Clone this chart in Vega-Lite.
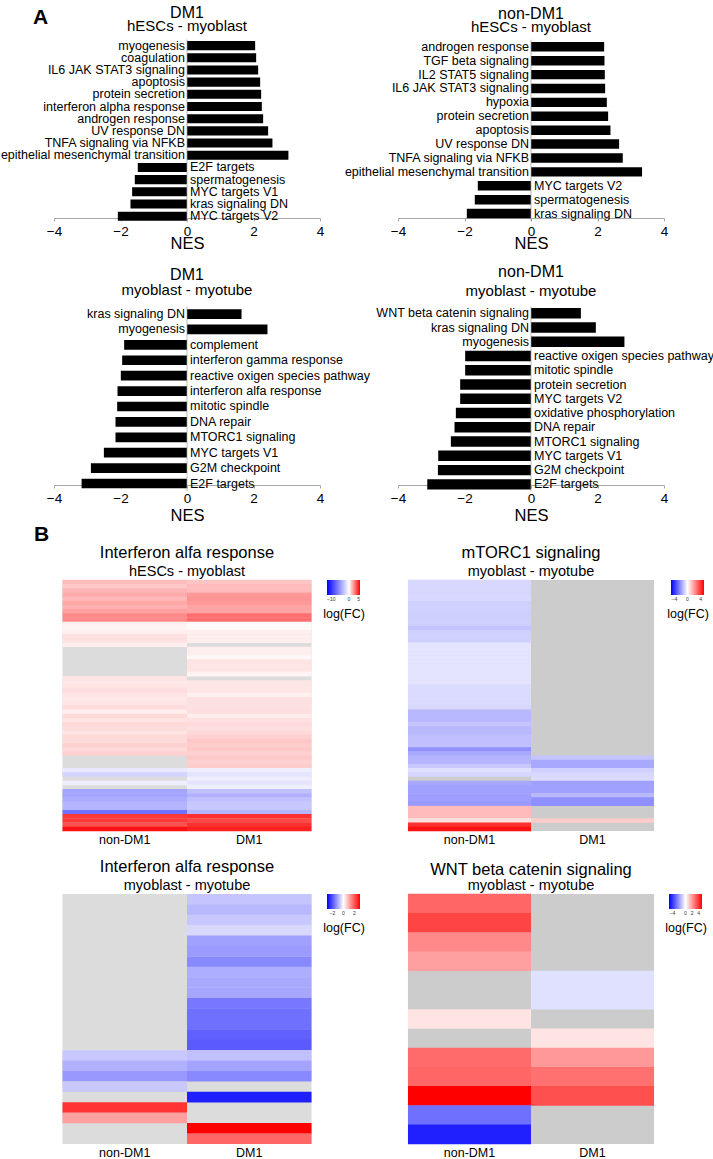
{
"$schema": "https://vega.github.io/schema/vega-lite/v6.json",
"padding": {"left": 0, "top": 5, "right": 0, "bottom": 0},
"title": {"text": "A", "anchor": "start", "frame": "bounds", "fontSize": 21, "fontWeight": "bold", "dx": 32, "dy": 23, "offset": 0},
"config": {
  "font": "Liberation Sans",
  "view": {"stroke": null},
  "title": {"fontWeight": "normal", "color": "black", "subtitleColor": "black", "anchor": "middle"},
  "axis": {"labelColor": "black", "titleColor": "black", "grid": false},
  "legend": {"orient": "right", "direction": "horizontal", "offset": 3, "padding": 0, "gradientLength": 33, "gradientThickness": 15, "labelFontSize": 5, "labelOffset": 2, "titleOrient": "bottom", "titleFontSize": 12.5, "titleFontWeight": "normal", "titlePadding": 6, "titleAnchor": "middle", "labelOverlap": false, "gradientStrokeWidth": 0, "titleColor": "black", "labelColor": "#333"}
},
"datasets": {
  "bars1": [
    {"o":1,"term":"myogenesis","nes":2.05},
    {"o":2,"term":"coagulation","nes":2.08},
    {"o":3,"term":"IL6 JAK STAT3 signaling","nes":2.14},
    {"o":4,"term":"apoptosis","nes":2.2},
    {"o":5,"term":"protein secretion","nes":2.23},
    {"o":6,"term":"interferon alpha response","nes":2.25},
    {"o":7,"term":"androgen response","nes":2.29},
    {"o":8,"term":"UV response DN","nes":2.44},
    {"o":9,"term":"TNFA signaling via NFKB","nes":2.57},
    {"o":10,"term":"epithelial mesenchymal transition","nes":3.05},
    {"o":11,"term":"E2F targets","nes":-1.48},
    {"o":12,"term":"spermatogenesis","nes":-1.57},
    {"o":13,"term":"MYC targets V1","nes":-1.65},
    {"o":14,"term":"kras signaling DN","nes":-1.7},
    {"o":15,"term":"MYC targets V2","nes":-2.08}
  ],
  "bars2": [
    {"o":1,"term":"androgen response","nes":2.2},
    {"o":2,"term":"TGF beta signaling","nes":2.21},
    {"o":3,"term":"IL2 STAT5 signaling","nes":2.22},
    {"o":4,"term":"IL6 JAK STAT3 signaling","nes":2.23},
    {"o":5,"term":"hypoxia","nes":2.28},
    {"o":6,"term":"protein secretion","nes":2.32},
    {"o":7,"term":"apoptosis","nes":2.39},
    {"o":8,"term":"UV response DN","nes":2.65},
    {"o":9,"term":"TNFA signaling via NFKB","nes":2.76},
    {"o":10,"term":"epithelial mesenchymal transition","nes":3.34},
    {"o":11,"term":"MYC targets V2","nes":-1.6},
    {"o":12,"term":"spermatogenesis","nes":-1.69},
    {"o":13,"term":"kras signaling DN","nes":-1.93}
  ],
  "bars3": [
    {"o":1,"term":"kras signaling DN","nes":1.64},
    {"o":2,"term":"myogenesis","nes":2.42},
    {"o":3,"term":"complement","nes":-1.89},
    {"o":4,"term":"interferon gamma response","nes":-1.95},
    {"o":5,"term":"reactive oxigen species pathway","nes":-1.99},
    {"o":6,"term":"interferon alfa response","nes":-2.09},
    {"o":7,"term":"mitotic spindle","nes":-2.1},
    {"o":8,"term":"DNA repair","nes":-2.15},
    {"o":9,"term":"MTORC1 signaling","nes":-2.15},
    {"o":10,"term":"MYC targets V1","nes":-2.5},
    {"o":11,"term":"G2M checkpoint","nes":-2.89},
    {"o":12,"term":"E2F targets","nes":-3.17}
  ],
  "bars4": [
    {"o":1,"term":"WNT beta catenin signaling","nes":1.5},
    {"o":2,"term":"kras signaling DN","nes":1.95},
    {"o":3,"term":"myogenesis","nes":2.81},
    {"o":4,"term":"reactive oxigen species pathway","nes":-1.98},
    {"o":5,"term":"mitotic spindle","nes":-1.98},
    {"o":6,"term":"protein secretion","nes":-2.13},
    {"o":7,"term":"MYC targets V2","nes":-2.13},
    {"o":8,"term":"oxidative phosphorylation","nes":-2.26},
    {"o":9,"term":"DNA repair","nes":-2.3},
    {"o":10,"term":"MTORC1 signaling","nes":-2.41},
    {"o":11,"term":"MYC targets V1","nes":-2.79},
    {"o":12,"term":"G2M checkpoint","nes":-2.8},
    {"o":13,"term":"E2F targets","nes":-3.12}
  ],
  "hm1": [
    {"r":0,"g":"non-DM1","v":1.31},{"r":1,"g":"non-DM1","v":1.08},{"r":2,"g":"non-DM1","v":1.47},{"r":3,"g":"non-DM1","v":1.67},{"r":4,"g":"non-DM1","v":1.39},
    {"r":5,"g":"non-DM1","v":1.71},{"r":6,"g":"non-DM1","v":1.55},{"r":7,"g":"non-DM1","v":1.86},{"r":8,"g":"non-DM1","v":2.33},{"r":9,"g":"non-DM1","v":2.33},
    {"r":10,"g":"non-DM1","v":0.29},{"r":11,"g":"non-DM1","v":0.22},{"r":12,"g":"non-DM1","v":0.33},{"r":13,"g":"non-DM1","v":0.61},{"r":14,"g":"non-DM1","v":0.61},
    {"r":15,"g":"non-DM1","v":0.33},{"r":16,"g":"non-DM1","v":null},{"r":17,"g":"non-DM1","v":null},{"r":18,"g":"non-DM1","v":null},{"r":19,"g":"non-DM1","v":null},
    {"r":20,"g":"non-DM1","v":null},{"r":21,"g":"non-DM1","v":null},{"r":22,"g":"non-DM1","v":null},{"r":23,"g":"non-DM1","v":0.53},{"r":24,"g":"non-DM1","v":0.45},
    {"r":25,"g":"non-DM1","v":0.53},{"r":26,"g":"non-DM1","v":0.69},{"r":27,"g":"non-DM1","v":0.53},{"r":28,"g":"non-DM1","v":0.45},{"r":29,"g":"non-DM1","v":0.53},
    {"r":30,"g":"non-DM1","v":0.69},{"r":31,"g":"non-DM1","v":0.33},{"r":32,"g":"non-DM1","v":0.76},{"r":33,"g":"non-DM1","v":0.53},{"r":34,"g":"non-DM1","v":0.76},
    {"r":35,"g":"non-DM1","v":0.69},{"r":36,"g":"non-DM1","v":0.53},{"r":37,"g":"non-DM1","v":0.76},{"r":38,"g":"non-DM1","v":0.73},{"r":39,"g":"non-DM1","v":0.92},
    {"r":40,"g":"non-DM1","v":0.73},{"r":41,"g":"non-DM1","v":0.92},{"r":42,"g":"non-DM1","v":null},{"r":43,"g":"non-DM1","v":null},{"r":44,"g":"non-DM1","v":null},
    {"r":45,"g":"non-DM1","v":-0.9},{"r":46,"g":"non-DM1","v":-1.69},{"r":47,"g":"non-DM1","v":null},{"r":48,"g":"non-DM1","v":-0.67},{"r":49,"g":"non-DM1","v":null},
    {"r":50,"g":"non-DM1","v":-3.57},{"r":51,"g":"non-DM1","v":-3.57},{"r":52,"g":"non-DM1","v":-3.3},{"r":53,"g":"non-DM1","v":-2.94},{"r":54,"g":"non-DM1","v":-2.94},
    {"r":55,"g":"non-DM1","v":-5.6},{"r":56,"g":"non-DM1","v":3.9},{"r":57,"g":"non-DM1","v":3.9},{"r":58,"g":"non-DM1","v":3.43},{"r":59,"g":"non-DM1","v":4.69},
    {"r":0,"g":"DM1","v":1.16},{"r":1,"g":"DM1","v":1.33},{"r":2,"g":"DM1","v":1.33},{"r":3,"g":"DM1","v":2.0},{"r":4,"g":"DM1","v":2.1},
    {"r":5,"g":"DM1","v":2.0},{"r":6,"g":"DM1","v":1.78},{"r":7,"g":"DM1","v":1.78},{"r":8,"g":"DM1","v":2.84},{"r":9,"g":"DM1","v":2.84},
    {"r":10,"g":"DM1","v":0.1},{"r":11,"g":"DM1","v":0.1},{"r":12,"g":"DM1","v":0.33},{"r":13,"g":"DM1","v":0.33},{"r":14,"g":"DM1","v":0.33},
    {"r":15,"g":"DM1","v":null},{"r":16,"g":"DM1","v":0.33},{"r":17,"g":"DM1","v":0.33},{"r":18,"g":"DM1","v":0.14},{"r":19,"g":"DM1","v":0.53},
    {"r":20,"g":"DM1","v":0.53},{"r":21,"g":"DM1","v":0.53},{"r":22,"g":"DM1","v":0.22},{"r":23,"g":"DM1","v":null},{"r":24,"g":"DM1","v":0.49},
    {"r":25,"g":"DM1","v":0.49},{"r":26,"g":"DM1","v":0.49},{"r":27,"g":"DM1","v":0.29},{"r":28,"g":"DM1","v":0.61},{"r":29,"g":"DM1","v":0.61},
    {"r":30,"g":"DM1","v":0.61},{"r":31,"g":"DM1","v":0.65},{"r":32,"g":"DM1","v":0.37},{"r":33,"g":"DM1","v":0.61},{"r":34,"g":"DM1","v":0.73},
    {"r":35,"g":"DM1","v":0.61},{"r":36,"g":"DM1","v":0.73},{"r":37,"g":"DM1","v":0.92},{"r":38,"g":"DM1","v":1.08},{"r":39,"g":"DM1","v":1.0},
    {"r":40,"g":"DM1","v":1.08},{"r":41,"g":"DM1","v":0.92},{"r":42,"g":"DM1","v":1.08},{"r":43,"g":"DM1","v":0.92},{"r":44,"g":"DM1","v":1.0},
    {"r":45,"g":"DM1","v":-0.67},{"r":46,"g":"DM1","v":-1.06},{"r":47,"g":"DM1","v":-0.67},{"r":48,"g":"DM1","v":-1.06},{"r":49,"g":"DM1","v":-0.67},
    {"r":50,"g":"DM1","v":-2.47},{"r":51,"g":"DM1","v":-3.1},{"r":52,"g":"DM1","v":-2.47},{"r":53,"g":"DM1","v":-2.16},{"r":54,"g":"DM1","v":-2.16},
    {"r":55,"g":"DM1","v":-2.94},{"r":56,"g":"DM1","v":4.06},{"r":57,"g":"DM1","v":3.59},{"r":58,"g":"DM1","v":4.06},{"r":59,"g":"DM1","v":4.37}
  ],
  "hm2": [
    {"r":0,"g":"non-DM1","v":-0.76},{"r":1,"g":"non-DM1","v":-0.78},{"r":2,"g":"non-DM1","v":-0.76},{"r":3,"g":"non-DM1","v":-0.8},{"r":4,"g":"non-DM1","v":-0.76},
    {"r":5,"g":"non-DM1","v":-0.92},{"r":6,"g":"non-DM1","v":-0.9},{"r":7,"g":"non-DM1","v":-0.92},{"r":8,"g":"non-DM1","v":-0.94},{"r":9,"g":"non-DM1","v":-0.92},
    {"r":10,"g":"non-DM1","v":-0.92},{"r":11,"g":"non-DM1","v":-1.16},{"r":12,"g":"non-DM1","v":-0.92},{"r":13,"g":"non-DM1","v":-0.9},{"r":14,"g":"non-DM1","v":-0.92},
    {"r":15,"g":"non-DM1","v":-0.53},{"r":16,"g":"non-DM1","v":-0.53},{"r":17,"g":"non-DM1","v":-0.53},{"r":18,"g":"non-DM1","v":-0.53},{"r":19,"g":"non-DM1","v":-0.53},
    {"r":20,"g":"non-DM1","v":-0.53},{"r":21,"g":"non-DM1","v":-0.53},{"r":22,"g":"non-DM1","v":-0.53},{"r":23,"g":"non-DM1","v":-0.53},{"r":24,"g":"non-DM1","v":-0.53},
    {"r":25,"g":"non-DM1","v":-0.7},{"r":26,"g":"non-DM1","v":-0.7},{"r":27,"g":"non-DM1","v":-0.7},{"r":28,"g":"non-DM1","v":-0.7},{"r":29,"g":"non-DM1","v":-0.7},
    {"r":30,"g":"non-DM1","v":-0.76},{"r":31,"g":"non-DM1","v":-1.39},{"r":32,"g":"non-DM1","v":-1.39},{"r":33,"g":"non-DM1","v":-1.39},{"r":34,"g":"non-DM1","v":-1.16},
    {"r":35,"g":"non-DM1","v":-1.39},{"r":36,"g":"non-DM1","v":-1.39},{"r":37,"g":"non-DM1","v":-1.24},{"r":38,"g":"non-DM1","v":-1.24},{"r":39,"g":"non-DM1","v":-1.24},
    {"r":40,"g":"non-DM1","v":-2.18},{"r":41,"g":"non-DM1","v":-1.71},{"r":42,"g":"non-DM1","v":-1.47},{"r":43,"g":"non-DM1","v":-1.47},{"r":44,"g":"non-DM1","v":-1.08},
    {"r":45,"g":"non-DM1","v":-0.61},{"r":46,"g":"non-DM1","v":-0.8},{"r":47,"g":"non-DM1","v":null},{"r":48,"g":"non-DM1","v":-1.71},{"r":49,"g":"non-DM1","v":-1.86},
    {"r":50,"g":"non-DM1","v":-1.86},{"r":51,"g":"non-DM1","v":-1.9},{"r":52,"g":"non-DM1","v":-1.9},{"r":53,"g":"non-DM1","v":-2.0},{"r":54,"g":"non-DM1","v":1.33},
    {"r":55,"g":"non-DM1","v":1.33},{"r":56,"g":"non-DM1","v":1.33},{"r":57,"g":"non-DM1","v":0.61},{"r":58,"g":"non-DM1","v":4.06},{"r":59,"g":"non-DM1","v":4.69},
    {"r":0,"g":"DM1","v":null},{"r":1,"g":"DM1","v":null},{"r":2,"g":"DM1","v":null},{"r":3,"g":"DM1","v":null},{"r":4,"g":"DM1","v":null},
    {"r":5,"g":"DM1","v":null},{"r":6,"g":"DM1","v":null},{"r":7,"g":"DM1","v":null},{"r":8,"g":"DM1","v":null},{"r":9,"g":"DM1","v":null},
    {"r":10,"g":"DM1","v":null},{"r":11,"g":"DM1","v":null},{"r":12,"g":"DM1","v":null},{"r":13,"g":"DM1","v":null},{"r":14,"g":"DM1","v":null},
    {"r":15,"g":"DM1","v":null},{"r":16,"g":"DM1","v":null},{"r":17,"g":"DM1","v":null},{"r":18,"g":"DM1","v":null},{"r":19,"g":"DM1","v":null},
    {"r":20,"g":"DM1","v":null},{"r":21,"g":"DM1","v":null},{"r":22,"g":"DM1","v":null},{"r":23,"g":"DM1","v":null},{"r":24,"g":"DM1","v":null},
    {"r":25,"g":"DM1","v":null},{"r":26,"g":"DM1","v":null},{"r":27,"g":"DM1","v":null},{"r":28,"g":"DM1","v":null},{"r":29,"g":"DM1","v":null},
    {"r":30,"g":"DM1","v":null},{"r":31,"g":"DM1","v":null},{"r":32,"g":"DM1","v":null},{"r":33,"g":"DM1","v":null},{"r":34,"g":"DM1","v":null},
    {"r":35,"g":"DM1","v":null},{"r":36,"g":"DM1","v":null},{"r":37,"g":"DM1","v":null},{"r":38,"g":"DM1","v":null},{"r":39,"g":"DM1","v":null},
    {"r":40,"g":"DM1","v":null},{"r":41,"g":"DM1","v":null},{"r":42,"g":"DM1","v":-1.16},{"r":43,"g":"DM1","v":-1.71},{"r":44,"g":"DM1","v":-1.71},
    {"r":45,"g":"DM1","v":-0.92},{"r":46,"g":"DM1","v":-0.76},{"r":47,"g":"DM1","v":-0.7},{"r":48,"g":"DM1","v":-1.86},{"r":49,"g":"DM1","v":-1.86},
    {"r":50,"g":"DM1","v":-1.86},{"r":51,"g":"DM1","v":-1.39},{"r":52,"g":"DM1","v":-2.2},{"r":53,"g":"DM1","v":-2.2},{"r":54,"g":"DM1","v":null},
    {"r":55,"g":"DM1","v":null},{"r":56,"g":"DM1","v":null},{"r":57,"g":"DM1","v":1.0},{"r":58,"g":"DM1","v":null},{"r":59,"g":"DM1","v":null}
  ],
  "hm3": [
    {"r":0,"g":"non-DM1","v":null},{"r":1,"g":"non-DM1","v":null},{"r":2,"g":"non-DM1","v":null},{"r":3,"g":"non-DM1","v":null},{"r":4,"g":"non-DM1","v":null},
    {"r":5,"g":"non-DM1","v":null},{"r":6,"g":"non-DM1","v":null},{"r":7,"g":"non-DM1","v":null},{"r":8,"g":"non-DM1","v":null},{"r":9,"g":"non-DM1","v":null},
    {"r":10,"g":"non-DM1","v":null},{"r":11,"g":"non-DM1","v":null},{"r":12,"g":"non-DM1","v":null},{"r":13,"g":"non-DM1","v":null},{"r":14,"g":"non-DM1","v":null},
    {"r":15,"g":"non-DM1","v":-0.65},{"r":16,"g":"non-DM1","v":-0.93},{"r":17,"g":"non-DM1","v":-1.21},{"r":18,"g":"non-DM1","v":-0.65},{"r":19,"g":"non-DM1","v":null},
    {"r":20,"g":"non-DM1","v":2.4},{"r":21,"g":"non-DM1","v":1.12},{"r":22,"g":"non-DM1","v":null},{"r":23,"g":"non-DM1","v":null},
    {"r":0,"g":"DM1","v":-0.69},{"r":1,"g":"DM1","v":-0.84},{"r":2,"g":"DM1","v":-0.65},{"r":3,"g":"DM1","v":-0.46},{"r":4,"g":"DM1","v":-1.12},
    {"r":5,"g":"DM1","v":-1.19},{"r":6,"g":"DM1","v":-1.4},{"r":7,"g":"DM1","v":-0.95},{"r":8,"g":"DM1","v":-1.02},{"r":9,"g":"DM1","v":-1.05},
    {"r":10,"g":"DM1","v":-1.59},{"r":11,"g":"DM1","v":-1.68},{"r":12,"g":"DM1","v":-1.68},{"r":13,"g":"DM1","v":-1.87},{"r":14,"g":"DM1","v":-1.94},
    {"r":15,"g":"DM1","v":-0.74},{"r":16,"g":"DM1","v":-1.07},{"r":17,"g":"DM1","v":-1.4},{"r":18,"g":"DM1","v":null},{"r":19,"g":"DM1","v":-2.62},
    {"r":20,"g":"DM1","v":null},{"r":21,"g":"DM1","v":null},{"r":22,"g":"DM1","v":3.0},{"r":23,"g":"DM1","v":1.8}
  ],
  "hm4": [
    {"r":0,"g":"non-DM1","v":3.0},{"r":1,"g":"non-DM1","v":3.67},{"r":2,"g":"non-DM1","v":2.33},{"r":3,"g":"non-DM1","v":1.86},{"r":4,"g":"non-DM1","v":null},
    {"r":5,"g":"non-DM1","v":null},{"r":6,"g":"non-DM1","v":0.53},{"r":7,"g":"non-DM1","v":null},{"r":8,"g":"non-DM1","v":2.92},{"r":9,"g":"non-DM1","v":3.0},
    {"r":10,"g":"non-DM1","v":5.0},{"r":11,"g":"non-DM1","v":-2.8},{"r":12,"g":"non-DM1","v":-4.37},
    {"r":0,"g":"DM1","v":null},{"r":1,"g":"DM1","v":null},{"r":2,"g":"DM1","v":null},{"r":3,"g":"DM1","v":null},{"r":4,"g":"DM1","v":-0.61},
    {"r":5,"g":"DM1","v":-0.61},{"r":6,"g":"DM1","v":null},{"r":7,"g":"DM1","v":0.53},{"r":8,"g":"DM1","v":2.0},{"r":9,"g":"DM1","v":2.8},
    {"r":10,"g":"DM1","v":3.43},{"r":11,"g":"DM1","v":null},{"r":12,"g":"DM1","v":null}
  ]
},
"columns": 2,
"spacing": {"row": 63, "column": 78},
"bounds": "flush",
"resolve": {"scale": {"color": "independent", "x": "independent", "y": "independent"}, "legend": {"color": "independent"}, "axis": {"x": "independent", "y": "independent"}},
"concat": [
  {
    "width": 266, "height": 204,
    "data": {"name": "bars1"},
    "title": {"text": "DM1", "subtitle": "hESCs - myoblast", "fontSize": 16, "subtitleFontSize": 15, "offset": 5, "subtitlePadding": -2},
    "encoding": {"y": {"field": "term", "type": "nominal", "sort": {"field": "o", "op": "min"}, "scale": {"paddingInner": 0.256, "paddingOuter": 1.25, "align": 0.044}, "axis": null}},
    "layer": [
      {"mark": {"type": "bar", "color": "black"},
       "encoding": {"x": {"field": "nes", "type": "quantitative", "scale": {"domain": [-4, 4], "nice": false},
         "axis": {"values": [-4, -2, 0, 2, 4], "title": "NES", "offset": -26, "domainColor": "#a6a6a6", "tickColor": "#a6a6a6", "tickSize": 3, "labelFontSize": 13.5, "labelPadding": 3, "titleFontSize": 16.5, "titleFontWeight": "normal", "titlePadding": -2, "labelFlush": false}}}},
      {"mark": {"type": "tick", "color": "#a0a0a0", "thickness": 1, "size": 12.4},
       "encoding": {"x": {"datum": 0, "type": "quantitative",
         "axis": {"values": [-4, -2, 0, 2, 4], "title": "NES", "offset": -26, "domainColor": "#a6a6a6", "tickColor": "#a6a6a6", "tickSize": 3, "labelFontSize": 13.5, "labelPadding": 3, "titleFontSize": 16.5, "titleFontWeight": "normal", "titlePadding": -2, "labelFlush": false}}}},
      {"mark": {"type": "text", "align": "right", "dx": -2, "fontSize": 12.5, "color": "black"},
       "encoding": {"x": {"datum": 0, "type": "quantitative",
         "axis": {"values": [-4, -2, 0, 2, 4], "title": "NES", "offset": -26, "domainColor": "#a6a6a6", "tickColor": "#a6a6a6", "tickSize": 3, "labelFontSize": 13.5, "labelPadding": 3, "titleFontSize": 16.5, "titleFontWeight": "normal", "titlePadding": -2, "labelFlush": false}},
         "text": {"condition": {"test": "datum.nes > 0", "field": "term", "type": "nominal"}, "value": ""}}},
      {"mark": {"type": "text", "align": "left", "dx": 3, "fontSize": 12.5, "color": "black"},
       "encoding": {"x": {"datum": 0, "type": "quantitative",
         "axis": {"values": [-4, -2, 0, 2, 4], "title": "NES", "offset": -26, "domainColor": "#a6a6a6", "tickColor": "#a6a6a6", "tickSize": 3, "labelFontSize": 13.5, "labelPadding": 3, "titleFontSize": 16.5, "titleFontWeight": "normal", "titlePadding": -2, "labelFlush": false}},
         "text": {"condition": {"test": "datum.nes < 0", "field": "term", "type": "nominal"}, "value": ""}}}
    ]
  },
  {
    "width": 266, "height": 204,
    "data": {"name": "bars2"},
    "title": {"text": "non-DM1", "subtitle": "hESCs - myoblast", "fontSize": 16, "subtitleFontSize": 15, "offset": 5, "subtitlePadding": -2},
    "encoding": {"y": {"field": "term", "type": "nominal", "sort": {"field": "o", "op": "min"}, "scale": {"paddingInner": 0.32, "paddingOuter": 1.115, "align": 0.075}, "axis": null}},
    "layer": [
      {"mark": {"type": "bar", "color": "black"},
       "encoding": {"x": {"field": "nes", "type": "quantitative", "scale": {"domain": [-4, 4], "nice": false},
         "axis": {"values": [-4, -2, 0, 2, 4], "title": "NES", "offset": -26, "domainColor": "#a6a6a6", "tickColor": "#a6a6a6", "tickSize": 3, "labelFontSize": 13.5, "labelPadding": 3, "titleFontSize": 16.5, "titleFontWeight": "normal", "titlePadding": -2, "labelFlush": false}}}},
      {"mark": {"type": "tick", "color": "#a0a0a0", "thickness": 1, "size": 14.2},
       "encoding": {"x": {"datum": 0, "type": "quantitative",
         "axis": {"values": [-4, -2, 0, 2, 4], "title": "NES", "offset": -26, "domainColor": "#a6a6a6", "tickColor": "#a6a6a6", "tickSize": 3, "labelFontSize": 13.5, "labelPadding": 3, "titleFontSize": 16.5, "titleFontWeight": "normal", "titlePadding": -2, "labelFlush": false}}}},
      {"mark": {"type": "text", "align": "right", "dx": -2, "fontSize": 12.5, "color": "black"},
       "encoding": {"x": {"datum": 0, "type": "quantitative",
         "axis": {"values": [-4, -2, 0, 2, 4], "title": "NES", "offset": -26, "domainColor": "#a6a6a6", "tickColor": "#a6a6a6", "tickSize": 3, "labelFontSize": 13.5, "labelPadding": 3, "titleFontSize": 16.5, "titleFontWeight": "normal", "titlePadding": -2, "labelFlush": false}},
         "text": {"condition": {"test": "datum.nes > 0", "field": "term", "type": "nominal"}, "value": ""}}},
      {"mark": {"type": "text", "align": "left", "dx": 3, "fontSize": 12.5, "color": "black"},
       "encoding": {"x": {"datum": 0, "type": "quantitative",
         "axis": {"values": [-4, -2, 0, 2, 4], "title": "NES", "offset": -26, "domainColor": "#a6a6a6", "tickColor": "#a6a6a6", "tickSize": 3, "labelFontSize": 13.5, "labelPadding": 3, "titleFontSize": 16.5, "titleFontWeight": "normal", "titlePadding": -2, "labelFlush": false}},
         "text": {"condition": {"test": "datum.nes < 0", "field": "term", "type": "nominal"}, "value": ""}}}
    ]
  },
  {
    "width": 266, "height": 210,
    "data": {"name": "bars3"},
    "title": {"text": "DM1", "subtitle": "myoblast - myotube", "fontSize": 16, "subtitleFontSize": 15, "offset": 8, "subtitlePadding": 0},
    "encoding": {"y": {"field": "term", "type": "nominal", "sort": {"field": "o", "op": "min"}, "scale": {"paddingInner": 0.371, "paddingOuter": 1.286, "align": 0.071},
      "axis": {"title": "B", "labels": false, "ticks": false, "domain": false, "titleAngle": 0, "titleX": -13, "titleY": 227, "titleFontSize": 21, "titleFontWeight": "bold", "titleAlign": "center", "titleBaseline": "middle"}}},
    "layer": [
      {"mark": {"type": "bar", "color": "black"},
       "encoding": {"x": {"field": "nes", "type": "quantitative", "scale": {"domain": [-4, 4], "nice": false},
         "axis": {"values": [-4, -2, 0, 2, 4], "title": "NES", "offset": -32, "domainColor": "#a6a6a6", "tickColor": "#a6a6a6", "tickSize": 3, "labelFontSize": 13.5, "labelPadding": 3, "titleFontSize": 16.5, "titleFontWeight": "normal", "titlePadding": 3, "labelFlush": false}}}},
      {"mark": {"type": "tick", "color": "#a0a0a0", "thickness": 1, "size": 15.3},
       "encoding": {"x": {"datum": 0, "type": "quantitative",
         "axis": {"values": [-4, -2, 0, 2, 4], "title": "NES", "offset": -32, "domainColor": "#a6a6a6", "tickColor": "#a6a6a6", "tickSize": 3, "labelFontSize": 13.5, "labelPadding": 3, "titleFontSize": 16.5, "titleFontWeight": "normal", "titlePadding": 3, "labelFlush": false}}}},
      {"mark": {"type": "text", "align": "right", "dx": -2, "fontSize": 12.5, "color": "black"},
       "encoding": {"x": {"datum": 0, "type": "quantitative",
         "axis": {"values": [-4, -2, 0, 2, 4], "title": "NES", "offset": -32, "domainColor": "#a6a6a6", "tickColor": "#a6a6a6", "tickSize": 3, "labelFontSize": 13.5, "labelPadding": 3, "titleFontSize": 16.5, "titleFontWeight": "normal", "titlePadding": 3, "labelFlush": false}},
         "text": {"condition": {"test": "datum.nes > 0", "field": "term", "type": "nominal"}, "value": ""}}},
      {"mark": {"type": "text", "align": "left", "dx": 3, "fontSize": 12.5, "color": "black"},
       "encoding": {"x": {"datum": 0, "type": "quantitative",
         "axis": {"values": [-4, -2, 0, 2, 4], "title": "NES", "offset": -32, "domainColor": "#a6a6a6", "tickColor": "#a6a6a6", "tickSize": 3, "labelFontSize": 13.5, "labelPadding": 3, "titleFontSize": 16.5, "titleFontWeight": "normal", "titlePadding": 3, "labelFlush": false}},
         "text": {"condition": {"test": "datum.nes < 0", "field": "term", "type": "nominal"}, "value": ""}}}
    ]
  },
  {
    "width": 266, "height": 210,
    "data": {"name": "bars4"},
    "title": {"text": "non-DM1", "subtitle": "myoblast - myotube", "fontSize": 16, "subtitleFontSize": 15, "offset": 7, "subtitlePadding": 4},
    "encoding": {"y": {"field": "term", "type": "nominal", "sort": {"field": "o", "op": "min"}, "scale": {"paddingInner": 0.27, "paddingOuter": 1.288, "align": 0.037}, "axis": null}},
    "layer": [
      {"mark": {"type": "bar", "color": "black"},
       "encoding": {"x": {"field": "nes", "type": "quantitative", "scale": {"domain": [-4, 4], "nice": false},
         "axis": {"values": [-4, -2, 0, 2, 4], "title": "NES", "offset": -32, "domainColor": "#a6a6a6", "tickColor": "#a6a6a6", "tickSize": 3, "labelFontSize": 13.5, "labelPadding": 3, "titleFontSize": 16.5, "titleFontWeight": "normal", "titlePadding": 3, "labelFlush": false}}}},
      {"mark": {"type": "tick", "color": "#a0a0a0", "thickness": 1, "size": 14.2},
       "encoding": {"x": {"datum": 0, "type": "quantitative",
         "axis": {"values": [-4, -2, 0, 2, 4], "title": "NES", "offset": -32, "domainColor": "#a6a6a6", "tickColor": "#a6a6a6", "tickSize": 3, "labelFontSize": 13.5, "labelPadding": 3, "titleFontSize": 16.5, "titleFontWeight": "normal", "titlePadding": 3, "labelFlush": false}}}},
      {"mark": {"type": "text", "align": "right", "dx": -2, "fontSize": 12.5, "color": "black"},
       "encoding": {"x": {"datum": 0, "type": "quantitative",
         "axis": {"values": [-4, -2, 0, 2, 4], "title": "NES", "offset": -32, "domainColor": "#a6a6a6", "tickColor": "#a6a6a6", "tickSize": 3, "labelFontSize": 13.5, "labelPadding": 3, "titleFontSize": 16.5, "titleFontWeight": "normal", "titlePadding": 3, "labelFlush": false}},
         "text": {"condition": {"test": "datum.nes > 0", "field": "term", "type": "nominal"}, "value": ""}}},
      {"mark": {"type": "text", "align": "left", "dx": 3, "fontSize": 12.5, "color": "black"},
       "encoding": {"x": {"datum": 0, "type": "quantitative",
         "axis": {"values": [-4, -2, 0, 2, 4], "title": "NES", "offset": -32, "domainColor": "#a6a6a6", "tickColor": "#a6a6a6", "tickSize": 3, "labelFontSize": 13.5, "labelPadding": 3, "titleFontSize": 16.5, "titleFontWeight": "normal", "titlePadding": 3, "labelFlush": false}},
         "text": {"condition": {"test": "datum.nes < 0", "field": "term", "type": "nominal"}, "value": ""}}}
    ]
  },
  {
    "width": 266, "height": 251,
    "data": {"name": "hm1"},
    "title": {"text": "Interferon alfa response", "subtitle": "hESCs - myoblast", "fontSize": 16.5, "subtitleFontSize": 14.5, "offset": 1, "subtitlePadding": 4},
    "encoding": {
      "x": {"field": "g", "type": "nominal", "sort": ["non-DM1", "DM1"], "scale": {"paddingInner": 0, "paddingOuter": 0.068},
        "axis": {"title": null, "ticks": false, "domain": false, "labelAngle": 0, "labelFontSize": 12.5, "labelPadding": 2}}
    },
    "layer": [
      {"transform": [{"aggregate": [{"op": "count", "as": "n"}], "groupby": ["g"]}],
       "mark": {"type": "rect", "color": "#dcdcdc"}},
      {"transform": [{"filter": "isValid(datum.v)"}],
       "mark": {"type": "rect", "height": {"band": 1.08}},
       "encoding": {
         "y": {"field": "r", "type": "ordinal", "scale": {"paddingInner": 0, "paddingOuter": 0}, "axis": null},
         "color": {"field": "v", "type": "quantitative", "scale": {"domain": [-10, 0, 5], "range": ["#0000ff", "#ffffff", "#ff0000"], "interpolate": "rgb"},
           "legend": {"title": "log(FC)", "direction": "horizontal", "values": [-10, 0, 5], "offset": 3}}}}
    ]
  },
  {
    "width": 266, "height": 251,
    "data": {"name": "hm2"},
    "title": {"text": "mTORC1 signaling", "subtitle": "myoblast - myotube", "fontSize": 16.5, "subtitleFontSize": 14.5, "offset": 1, "subtitlePadding": 4},
    "encoding": {
      "x": {"field": "g", "type": "nominal", "sort": ["non-DM1", "DM1"], "scale": {"paddingInner": 0, "paddingOuter": 0.081},
        "axis": {"title": null, "ticks": false, "domain": false, "labelAngle": 0, "labelFontSize": 12.5, "labelPadding": 2}}
    },
    "layer": [
      {"transform": [{"aggregate": [{"op": "count", "as": "n"}], "groupby": ["g"]}],
       "mark": {"type": "rect", "color": "#cccccc"}},
      {"transform": [{"filter": "isValid(datum.v)"}],
       "mark": {"type": "rect", "height": {"band": 1.08}},
       "encoding": {
         "y": {"field": "r", "type": "ordinal", "scale": {"paddingInner": 0, "paddingOuter": 0}, "axis": null},
         "color": {"field": "v", "type": "quantitative", "scale": {"domain": [-5, 0, 5], "range": ["#0000ff", "#ffffff", "#ff0000"], "interpolate": "rgb"},
           "legend": {"title": "log(FC)", "direction": "horizontal", "values": [-4, 0, 4], "offset": 3}}}}
    ]
  },
  {
    "width": 266, "height": 250,
    "data": {"name": "hm3"},
    "title": {"text": "Interferon alfa response", "subtitle": "myoblast - myotube", "fontSize": 16.5, "subtitleFontSize": 14.5, "offset": 1, "subtitlePadding": 4},
    "encoding": {
      "x": {"field": "g", "type": "nominal", "sort": ["non-DM1", "DM1"], "scale": {"paddingInner": 0, "paddingOuter": 0.068},
        "axis": {"title": null, "ticks": false, "domain": false, "labelAngle": 0, "labelFontSize": 12.5, "labelPadding": 2}}
    },
    "layer": [
      {"transform": [{"aggregate": [{"op": "count", "as": "n"}], "groupby": ["g"]}],
       "mark": {"type": "rect", "color": "#dcdcdc"}},
      {"transform": [{"filter": "isValid(datum.v)"}],
       "mark": {"type": "rect", "height": {"band": 1.02}},
       "encoding": {
         "y": {"field": "r", "type": "ordinal", "scale": {"paddingInner": 0, "paddingOuter": 0}, "axis": null},
         "color": {"field": "v", "type": "quantitative", "scale": {"domain": [-3, 0, 3], "range": ["#0000ff", "#ffffff", "#ff0000"], "interpolate": "rgb"},
           "legend": {"title": "log(FC)", "direction": "horizontal", "values": [-2, 0, 2], "offset": 3}}}}
    ]
  },
  {
    "width": 266, "height": 250,
    "data": {"name": "hm4"},
    "title": {"text": "WNT beta catenin signaling", "subtitle": "myoblast - myotube", "fontSize": 16.5, "subtitleFontSize": 14.5, "offset": 1, "subtitlePadding": 1},
    "encoding": {
      "x": {"field": "g", "type": "nominal", "sort": ["non-DM1", "DM1"], "scale": {"paddingInner": 0, "paddingOuter": 0.081},
        "axis": {"title": null, "ticks": false, "domain": false, "labelAngle": 0, "labelFontSize": 12.5, "labelPadding": 2}}
    },
    "layer": [
      {"transform": [{"aggregate": [{"op": "count", "as": "n"}], "groupby": ["g"]}],
       "mark": {"type": "rect", "color": "#cccccc"}},
      {"transform": [{"filter": "isValid(datum.v)"}],
       "mark": {"type": "rect", "height": {"band": 1.02}},
       "encoding": {
         "y": {"field": "r", "type": "ordinal", "scale": {"paddingInner": 0, "paddingOuter": 0}, "axis": null},
         "color": {"field": "v", "type": "quantitative", "scale": {"domain": [-5, 0, 5], "range": ["#0000ff", "#ffffff", "#ff0000"], "interpolate": "rgb"},
           "legend": {"title": "log(FC)", "direction": "horizontal", "values": [-4, 0, 2, 4], "offset": 1}}}}
    ]
  }
]
}
